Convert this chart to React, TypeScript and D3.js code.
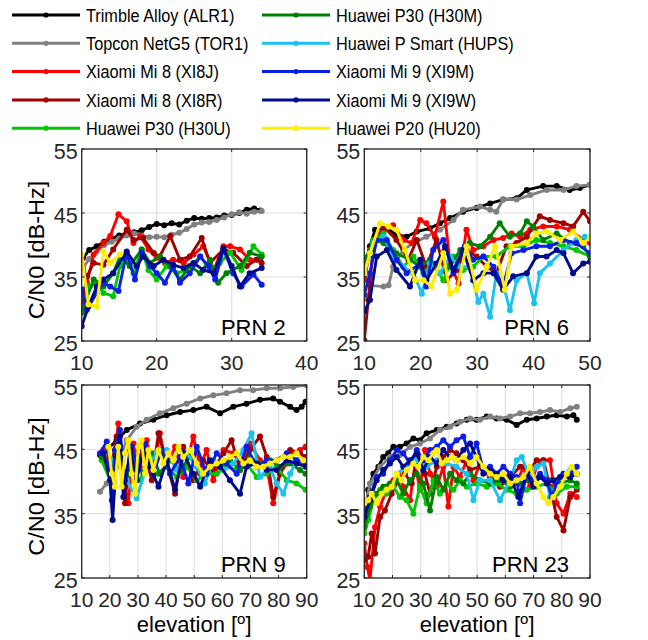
import React from 'react';
import * as d3 from 'd3';

type Pt = [number, number];

const SERIES_NAMES = [
  'Trimble Alloy (ALR1)', 'Topcon NetG5 (TOR1)', 'Xiaomi Mi 8 (XI8J)', 'Xiaomi Mi 8 (XI8R)', 'Huawei P30 (H30U)',
  'Huawei P30 (H30M)', 'Huawei P Smart (HUPS)', 'Xiaomi Mi 9 (XI9M)', 'Xiaomi Mi 9 (XI9W)', 'Huawei P20 (HU20)',
];
const SERIES_COLORS = ['#000000', '#808080', '#ff0000', '#a00000', '#00c800', '#008000', '#19c3ef', '#0a1ee6', '#000a8c', '#ffee00'];

const Y_TICKS = [25, 35, 45, 55];
const PRN_LABELS = ['PRN 2', 'PRN 6', 'PRN 9', 'PRN 23'];
const X_MAX = [40, 50, 90, 90];
const X_TICKS = [[10, 20, 30, 40], [10, 20, 30, 40, 50], [10, 20, 30, 40, 50, 60, 70, 80, 90], [10, 20, 30, 40, 50, 60, 70, 80, 90]];

// ---------- PRN 2 ----------
const PRN2_ALR1: Pt[] = [[10.2,38],[11,39.2],[12,39.8],[13,40.5],[14,41],[15,41.5],[16,41.8],[17,42],[18,42.3],[19,42.8],[20,43.3],[21,43.1],[22,43.4],[23,43.2],[24,43.8],[25,44.2],[26,44.1],[27,44.2],[28,44.3],[29,44.6],[30,44.7],[31,45],[32,45.5],[33,45.7],[33.8,45.4]];
const PRN2_TOR1: Pt[] = [[10.2,36.5],[11,37.8],[12,39],[13,40],[14,40.5],[15,41],[16,41.5],[17,41.8],[18,41.5],[19,41.2],[20,41.3],[21,41.2],[22,41.6],[23,41.9],[24,42.5],[25,43.2],[26,43.5],[27,43.6],[28,43.9],[29,44.3],[30,44.8],[31,45.1],[32,44.9],[33,45.2],[34,45.3]];
const PRN2_XI8J: Pt[] = [[10,37.9],[10.7,34.1],[11.6,38.5],[12.9,40.3],[13.8,41.4],[14.9,44.8],[16,43.7],[16.9,40.3],[17.8,41.4],[18.9,39.3],[20,38],[21.1,37.2],[22.2,37.7],[23.6,37.2],[24.9,38.5],[26.2,39.8],[27.6,36.1],[28.9,39.8],[29.8,39.8],[31.1,39.3],[32.4,37.7],[33.8,37.7]];
const PRN2_XI8R: Pt[] = [[10,29.4],[10.7,35.1],[11.6,37.2],[12.9,36.9],[14.2,39.3],[16,42.4],[16.9,40.8],[18.2,41.1],[19.6,38.75],[20.4,38.2],[21.8,41.4],[23.1,37.7],[24.4,38.2],[26,41.1],[27.1,37.2],[28.9,39.3],[30.2,38.8],[32,36.7],[33.3,37.7],[34,37.2]];
const PRN2_H30U: Pt[] = [[10,29.4],[11.1,33.5],[12,34.1],[12.9,32.5],[14.2,32],[15.1,36.7],[16,37.7],[16.9,35.6],[18,39.3],[18.9,36.1],[20,34.6],[21.3,36.7],[22.7,35.6],[24,36.1],[25.8,38.2],[27.1,36.1],[28.4,37.2],[29.8,38.8],[31.3,36.1],[32.9,39.8],[34,38.5]];
const PRN2_H30M: Pt[] = [[10,29.6],[11.6,34.6],[12.9,33.5],[14.2,35.6],[15.1,38.2],[16.4,36.7],[18,39.3],[19.1,37.2],[20.4,38.2],[21.8,36.7],[23.1,34.6],[24.4,36.7],[25.8,35.6],[27.1,37.7],[28.2,34.1],[29.3,35.6],[31.1,36.7],[32.4,38.8],[34,38.2]];
const PRN2_HUPS: Pt[] = [];
const PRN2_XI9M: Pt[] = [[10,33.1],[10.7,29.9],[12,32.5],[12.9,34.1],[13.8,33.5],[14.9,32.8],[16,38.8],[17.1,34.6],[18,38.8],[19.1,36.7],[20,35.6],[21.1,34.1],[22.2,36.7],[23.1,34.1],[24.4,35.6],[25.8,38.2],[26.9,36.7],[27.8,34.6],[28.9,39.3],[30.2,35.6],[31.3,33.5],[32.9,35.4],[34,33.8]];
const PRN2_XI9W: Pt[] = [[10,27.3],[10.9,30.4],[12,33.5],[12.9,34.6],[14.2,35.6],[16,39],[17.3,36.7],[18.2,38.2],[19.6,36.7],[20.9,37.7],[22.2,36.9],[23.6,36.4],[24.9,37.2],[26.2,36.1],[27.6,35.6],[28.9,39.5],[30,36.7],[31.1,33.5],[32.4,35.6],[34,36.4]];
const PRN2_HU20: Pt[] = [[10,38.5],[10.9,30.7],[12,30.4],[12.9,39],[13.8,37.2],[15.1,38.5]];

// ---------- PRN 6 ----------
const PRN6_ALR1: Pt[] = [[10,36.1],[11,39.8],[11.9,42.4],[14,42.6],[15.7,41.6],[17.5,41.3],[19.3,42.1],[21.6,42.6],[23.4,43.4],[25.2,44.2],[27.5,45.2],[29.9,45.8],[32.3,46.5],[34.6,47.1],[37,47.3],[38.8,48.6],[41.7,49.2],[44.1,49.2],[46.4,48.6],[48.2,48.9],[50,49.4]];
const PRN6_TOR1: Pt[] = [[10,35.1],[11,33.7],[13.4,33.5],[14.3,33.7],[15.1,36.6],[16.9,39.2],[18.7,40.3],[21,41.3],[23.4,42.4],[25.8,43.9],[27.5,45.5],[30.5,46],[32.3,45.5],[33.4,45.2],[34.6,47.1],[37,47.1],[39.4,47.8],[42.3,48.6],[45.3,48.6],[47.6,49.2],[50,49.4]];
const PRN6_XI8J: Pt[] = [[10,34.5],[11,39.2],[12.8,41.8],[15.1,43.1],[16.9,40.8],[18.4,40.3],[19.9,43.9],[21,43.4],[22.5,41.3],[24,46.8],[25.2,37.1],[26.7,34],[28.1,42.4],[29.3,39.2],[31.1,39.8],[32.9,40.8],[34.6,41.1],[36.1,41.8],[37.6,41.3],[39.4,42.4],[41.7,42.9],[44.1,42.9],[46.4,42.4],[48.8,40.8],[50,40.3]];
const PRN6_XI8R: Pt[] = [[10,25.1],[10.7,31.4],[11.6,39.8],[13.4,42.9],[15.7,40.8],[17.8,37.7],[19.3,40.8],[21,36.6],[22.8,40.8],[24.6,34.5],[26.4,36.1],[28.1,39.2],[29.9,38.2],[31.7,36.6],[33.4,35.6],[35.2,39.8],[37,40.3],[38.8,41.3],[41.1,44.5],[42.9,43.9],[45.3,43.4],[47,42.9],[48.8,45.2],[50,43.7]];
const PRN6_H30U: Pt[] = [[10,37.1],[11.6,40.8],[13.4,41.8],[15.1,39.2],[16.9,36.6],[18.7,38.2],[20.5,35.6],[22.2,37.1],[24,34.5],[25.8,38.2],[27.5,36.1],[29.3,36.6],[31.1,38.2],[33.4,38.2],[35.8,39.8],[38.2,39.8],[40.5,40.8],[42.9,40.3],[45.3,39.8],[47.6,39.2],[50,38.2]];
const PRN6_H30M: Pt[] = [[10,37.7],[11.9,40.8],[13.4,40.3],[15.7,38.7],[18.1,37.7],[19.9,36.6],[21.6,37.7],[23.4,35.6],[25.2,36.6],[27,39.2],[28.7,40.3],[30.5,39.8],[32.3,41.3],[34,43.4],[35.8,41.3],[37.6,41.8],[38.8,43.7],[39.9,42.9],[41.7,40.8],[44.1,41.8],[46.4,40.3],[48.8,39.8],[50,38.2]];
const PRN6_HUPS: Pt[] = [[10,35.6],[11.6,40.3],[13.4,41.3],[15.1,38.2],[16.9,36.6],[18.7,35.6],[20.2,32.4],[21.6,37.1],[23.4,35.6],[25.2,38.2],[27,36.6],[28.7,36.6],[30.2,31.1],[31.1,32.4],[32.3,28.8],[33.4,35.6],[34.6,34],[35.8,29.8],[37,34.5],[38.8,35.6],[40.1,30.9],[41.1,35.6],[42.9,37.1],[45.3,39.2],[47.6,40.8],[49.1,41.3]];
const PRN6_XI9M: Pt[] = [[10,32.2],[11,35.6],[12.2,40.8],[14,40.8],[15.7,37.7],[17.5,35.6],[19.9,37.1],[21,33.5],[22.2,39.2],[24,40.8],[25.8,35.6],[27.8,39.8],[29.3,37.7],[31.1,38.2],[32.9,36.6],[34.6,33.5],[36.1,38.7],[38.2,39.2],[40.5,39.8],[42.9,39.8],[45.3,40.8],[47.6,40.3],[50,38.7]];
const PRN6_XI9W: Pt[] = [[10,29.6],[11,31.4],[12.2,38.2],[14,39.2],[15.7,36.1],[18.1,33.5],[19.9,37.7],[21,34.5],[22.8,37.1],[24.3,39.8],[25.8,36.1],[27.5,39.2],[29.3,34.5],[31.1,35.6],[32.9,35.6],[34.6,33],[36.4,35.1],[38.8,35.6],[40.5,38.2],[42.3,38.2],[44.1,39.2],[45.3,38.7],[47,35.6],[48.8,37.1],[50,37.4]];
const PRN6_HU20: Pt[] = [[10,35.6],[11,38.7],[12.8,43.4],[14.3,42.9],[15.7,42.4],[17.2,39.2],[19,34.5],[20.5,34.5],[21.9,33.5],[24,38.7],[25.2,32.4],[26.4,33],[28.1,39.8],[29.9,33],[31.7,36.6],[33.2,39.8],[34.9,33],[36.1,39.8],[38.8,40.3],[40.5,41.8],[42.3,42.1],[44.7,40.8],[47,42.1],[48.8,40.3],[50,41.1]];

// ---------- PRN 9 ----------
const PRN9_ALR1: Pt[] = [[16.5,44.1],[18.9,44.9],[22.4,46.4],[26,48],[30.7,49],[35.5,49.6],[40.2,50.3],[45,50.8],[49.7,51.1],[54.4,51.6],[59.2,50.6],[63.9,51.6],[68.6,52.1],[73.4,52.7],[78.1,52.9],[80.5,52.4],[84.1,51.6],[86.4,51.1],[88.2,51.6],[89.6,52.4]];
const PRN9_TOR1: Pt[] = [[16.5,38.4],[18.9,39.7],[22.4,42.3],[26,46.4],[29.5,48.5],[33.1,49.6],[37.8,50.6],[42.6,51.4],[47.3,52.1],[52.1,52.9],[56.8,53.4],[61.5,53.7],[66.3,54.2],[71,54.2],[75.8,54.5],[80.5,54.5],[85.2,54.7],[89.6,55]];
const PRN9_XI8J: Pt[] = [[17.7,44.9],[20.7,40.2],[23,49],[24.8,40.2],[26.6,36.6],[28.4,45.9],[30.7,42.3],[33.1,46.4],[35.5,41.2],[37.8,47.5],[40.2,42.3],[43.2,45.4],[46.1,40.7],[49.7,47],[52.1,42.3],[54.4,44.9],[56.8,40.2],[60.4,44.9],[63.9,44.4],[66.9,42.3],[69.8,45.9],[73.4,43.3],[75.8,42.3],[78.1,36.6],[80.5,41.2],[82.9,42.8],[85.2,44.4],[87.6,44.9],[89.6,45.4]];
const PRN9_XI8R: Pt[] = [[17.1,44.4],[20.1,41.2],[22.4,47],[25.4,36.6],[27.2,44.9],[29.5,42.3],[31.9,45.4],[34.9,40.2],[37.3,47.5],[40.2,42.8],[43.2,38.1],[46.1,45.4],[49.7,40.2],[53.2,43.3],[56.8,41.8],[60.4,44.4],[63.3,46.4],[66.3,41.8],[69.8,44.9],[73.4,47],[75.8,43.8],[78.1,37.6],[80.5,41.2],[84.1,44.9],[87.6,44.4],[89.6,43.8]];
const PRN9_H30U: Pt[] = [[17.1,43.3],[20.1,40.2],[22.4,44.9],[25.4,41.2],[27.8,42.3],[30.7,40.2],[33.7,42.8],[36.7,41.2],[40.2,42.3],[43.8,40.7],[47.3,42.3],[50.9,40.2],[54.4,41.2],[58,41.2],[61.5,42.3],[65.1,41.8],[68.6,42.8],[72.2,40.7],[75.8,41.2],[79.3,42.3],[82.9,40.2],[86.4,39.7],[89.6,38.7]];
const PRN9_H30M: Pt[] = [[17.1,43.8],[20.1,42.3],[23,45.4],[26,40.2],[29,43.8],[31.9,41.2],[34.9,44.4],[37.8,41.2],[41.4,43.3],[45,41.8],[48.5,43.8],[52.1,41.2],[55.6,42.8],[59.2,42.3],[62.7,43.3],[66.3,41.8],[69.8,43.8],[73.4,42.8],[76.9,43.3],[80.5,42.3],[84.1,42.8],[87.6,41.8],[89.6,41.2]];
const PRN9_HUPS: Pt[] = [[20.1,42.8],[23,44.9],[26,40.2],[29.5,37.4],[33.1,42.3],[36.7,44.4],[40.2,44.9],[43.8,41.8],[47.3,44.4],[50.9,42.3],[53.8,39.7],[56.8,43.3],[60.4,41.8],[63.9,42.8],[67.5,44.9],[70.4,47.5],[73.4,40.7],[76.9,42.3],[79.3,39.7],[81.7,38.1],[84.1,41.2],[86.4,43.3],[89.6,42.8]];
const PRN9_XI9M: Pt[] = [[16.5,44.4],[18.9,46.2],[20.7,37.1],[21.8,44.9],[23.6,48],[25.4,40.2],[27.8,45.4],[30.1,41.8],[32.5,45.9],[35.5,41.2],[38.4,44.9],[41.4,41.2],[45,43.8],[47.9,39.7],[50.9,45.4],[54.4,41.2],[58,44.4],[61.5,42.8],[65.1,41.2],[68.6,45.4],[72.2,42.3],[75.8,43.3],[79.3,43.3],[82.9,44.4],[86.4,43.3],[89.6,42.8]];
const PRN9_XI9W: Pt[] = [[17.7,44.4],[20.1,40.2],[21,34],[22.4,43.8],[23.6,47],[24.8,37.6],[27.2,44.9],[29.5,40.2],[31.9,44.9],[34.3,42.3],[37.3,39.2],[40.2,43.3],[43.2,38.7],[46.1,44.4],[49.7,41.2],[52.1,39.2],[55.6,43.3],[59.2,42.3],[62.7,40.2],[66.3,38.1],[68.6,42.3],[72.2,42.8],[75.8,41.8],[79.3,41.8],[82.9,43.3],[86.4,42.8],[89.6,42.3]];
const PRN9_HU20: Pt[] = [[19.5,45.4],[20.7,41.2],[21.8,39.2],[23,45.4],[24.2,39.2],[25.4,44.4],[26.6,46.4],[27.8,41.2],[29,38.1],[30.1,45.4],[31.3,46.4],[32.5,41.2],[33.7,44.9],[35.5,41.8],[37.3,44.9],[39,42.8],[40.8,44.4],[42.6,43.3],[44.4,45.4],[46.1,43.8],[48.5,44.9],[50.9,42.8],[53.2,41.2],[55.6,42.3],[58,42.8],[60.4,43.3],[62.7,43.8],[65.1,44.4],[67.5,42.8],[69.8,43.3],[72.2,42.3],[74.6,42.3],[76.9,42.8],[79.3,43.3],[81.7,43.8],[84.1,43.8],[86.4,44.4],[88.8,43.3]];

// ---------- PRN 23 ----------
const PRN23_ALR1: Pt[] = [[10,33.5],[11.4,38.7],[13.2,41.2],[15,42.3],[16.7,43.8],[18.5,44.4],[20.3,45.4],[22.6,45.4],[25,45.9],[27.4,46.7],[29.7,46.4],[32.1,47.5],[35.7,48],[39.2,48.5],[42.7,49],[46.3,49.6],[49.8,49.6],[53.4,50.1],[56.9,49.8],[60.5,49.6],[64,48.8],[67.6,49.6],[71.1,49.8],[74.7,50.1],[78.2,50.3],[81.8,50.1],[84.1,50.3],[85.3,49.6]];
const PRN23_TOR1: Pt[] = [[10,35],[12,39.7],[15.6,42.3],[19.1,43.8],[22.6,44.1],[26.2,45.4],[29.7,45.9],[33.3,46.7],[36.8,48],[40.4,48.5],[43.9,49.3],[47.5,49.8],[51,49.6],[54.6,50.1],[58.1,49.8],[61.7,50.1],[65.2,50.6],[68.7,50.6],[72.3,50.8],[75.8,51.1],[79.4,50.8],[83,51.4],[85.3,51.6]];
const PRN23_XI8J: Pt[] = [[10,30.4],[11.1,26.7],[12,24.6],[13.8,32.9],[15.6,36.1],[17.9,38.7],[20.3,40.2],[22.1,41.2],[23.8,39.2],[26.2,37.1],[28,42.8],[29.7,38.7],[31.5,44.9],[33.3,41.2],[35.7,39.2],[38,42.3],[39.8,36.1],[41.6,42.3],[43.9,40.7],[46.3,43.3],[48.7,40.2],[51,42.8],[54.6,40.7],[58.1,40.2],[61.7,41.2],[64,39.7],[66.4,42.3],[68.7,39.2],[71.1,42.3],[73.5,43.3],[75.8,43.3],[78.2,36.6],[80.6,35],[83,38.1],[85.3,37.6]];
const PRN23_XI8R: Pt[] = [[10,27.8],[11.4,28.3],[12.6,31.9],[13.8,28.8],[15.6,34.5],[17.3,35.5],[19.7,38.1],[22.1,40.2],[24.4,41.2],[26.8,39.7],[29.1,43.8],[31.5,41.2],[33.3,38.1],[35.7,42.3],[38,43.8],[40.4,44.9],[42.7,44.4],[45.1,43.3],[47.5,41.8],[51,42.3],[54.6,40.7],[58.1,39.2],[61.7,40.7],[65.2,42.3],[68.7,41.8],[71.1,43.3],[73.5,43.3],[75.8,39.2],[78.2,34.5],[80.6,32.4],[83,37.6],[85.3,38.7]];
const PRN23_H30U: Pt[] = [[10,31.9],[11.4,34],[13.2,37.1],[15.6,38.7],[17.9,38.1],[20.3,39.2],[22.6,37.6],[25,37.1],[27.4,35],[29.7,39.2],[32.1,36.6],[34.5,40.2],[36.8,38.1],[39.2,39.7],[41.6,38.7],[43.9,40.2],[46.3,39.2],[49.8,39.7],[53.4,39.2],[56.9,39.7],[60.5,38.7],[64,38.1],[67.6,38.7],[71.1,39.2],[74.7,39.7],[78.2,38.1],[81.8,39.2],[85.3,39.2]];
const PRN23_H30M: Pt[] = [[10,32.9],[12,36.1],[14.4,38.1],[16.7,39.2],[19.1,39.7],[21.5,40.2],[23.8,38.1],[26.2,40.2],[28.6,41.2],[30.9,39.7],[33.3,35.5],[35.7,40.7],[38,38.7],[40.4,41.2],[42.7,40.2],[45.1,39.7],[47.5,41.2],[51,40.2],[54.6,39.7],[58.1,40.2],[61.7,39.2],[65.2,39.7],[68.7,40.2],[72.3,40.7],[75.8,40.2],[79.4,39.7],[83,40.2],[85.3,39.7]];
const PRN23_HUPS: Pt[] = [[21.5,41.2],[25,42.3],[28.6,43.3],[32.1,42.3],[35.7,43.3],[39.2,42.8],[42.7,42.3],[46.3,41.2],[48.7,37.1],[51,40.2],[54.6,40.2],[58.1,37.1],[61.7,40.2],[64,43.3],[65.8,43.8],[68.7,40.7],[71.1,42.3],[73.5,42.8],[75.8,37.6],[78.2,39.7],[80.6,41.2],[83,41.8],[85.3,41.2]];
const PRN23_XI9M: Pt[] = [[10,35],[12,37.6],[14.4,40.7],[16.7,41.2],[19.1,43.3],[21.5,44.9],[23.8,44.4],[26.2,42.8],[28.6,44.9],[30.9,43.3],[33.3,44.9],[35.7,45.4],[38,46.4],[40.4,45.4],[42.7,46.4],[45.1,47],[47.5,43.8],[49.8,45.9],[52.2,41.8],[54.6,42.3],[56.9,41.2],[59.3,42.3],[61.7,41.2],[64,40.7],[65.2,36.6],[67.6,41.2],[69.9,40.2],[72.3,41.2],[74.7,40.2],[76.4,37.6],[78.2,39.7],[80.6,41.2],[83,41.2],[85.3,42.3]];
const PRN23_XI9W: Pt[] = [[10,34.5],[12,37.1],[14.4,40.2],[16.7,41.8],[19.1,42.8],[21.5,43.8],[23.8,42.3],[26.2,43.3],[28.6,44.4],[30.9,41.8],[33.3,43.8],[35.7,42.8],[38,44.9],[40.4,43.8],[42.7,43.3],[45.1,44.9],[47.5,45.9],[49.8,43.8],[52.2,41.2],[54.6,41.8],[56.9,41.2],[59.3,40.2],[61.7,40.7],[64.6,37.6],[67.6,41.2],[69.9,39.2],[72.3,40.7],[74.7,39.7],[77,40.2],[79.4,40.7],[83,40.7],[85.3,41.2]];
const PRN23_HU20: Pt[] = [[10,36.6],[11.4,37.1],[12.6,38.1],[14.4,36.6],[16.1,38.1],[17.9,38.7],[19.7,39.2],[21.5,41.2],[23.2,40.2],[25,41.8],[27.4,42.8],[29.1,42.3],[30.9,43.8],[32.7,43.3],[34.5,44.4],[35.7,44.9],[37.4,42.8],[39.2,43.3],[41,43.8],[42.7,43.3],[45.1,43.8],[47.5,42.8],[49.8,43.8],[52.2,42.3],[54.6,41.2],[56.9,40.7],[59.3,41.2],[61.7,39.7],[64,40.2],[66.4,40.7],[68.7,42.3],[71.1,39.7],[73.5,37.6],[75.2,36.6],[77,37.6],[79.4,39.2],[81.8,41.2],[83.5,42.3],[85.3,41.2]];

const PANEL_DATA: Pt[][][] = [
  [PRN2_ALR1, PRN2_TOR1, PRN2_XI8J, PRN2_XI8R, PRN2_H30U, PRN2_H30M, PRN2_HUPS, PRN2_XI9M, PRN2_XI9W, PRN2_HU20],
  [PRN6_ALR1, PRN6_TOR1, PRN6_XI8J, PRN6_XI8R, PRN6_H30U, PRN6_H30M, PRN6_HUPS, PRN6_XI9M, PRN6_XI9W, PRN6_HU20],
  [PRN9_ALR1, PRN9_TOR1, PRN9_XI8J, PRN9_XI8R, PRN9_H30U, PRN9_H30M, PRN9_HUPS, PRN9_XI9M, PRN9_XI9W, PRN9_HU20],
  [PRN23_ALR1, PRN23_TOR1, PRN23_XI8J, PRN23_XI8R, PRN23_H30U, PRN23_H30M, PRN23_HUPS, PRN23_XI9M, PRN23_XI9W, PRN23_HU20],
];

const W = 648;
const H = 640;
const FONT = '"Liberation Sans", Arial, Helvetica, sans-serif';
const PANEL_BOXES = [
  { left: 81.7, right: 306.7, top: 149, bottom: 341 },
  { left: 364.3, right: 590, top: 149, bottom: 341 },
  { left: 81.7, right: 306.7, top: 385, bottom: 578 },
  { left: 364.3, right: 590, top: 385, bottom: 578 },
];

function Panel({ idx }: { idx: number }) {
  const b = PANEL_BOXES[idx];
  const x = d3.scaleLinear().domain([10, X_MAX[idx]]).range([b.left, b.right]);
  const y = d3.scaleLinear().domain([25, 55]).range([b.bottom, b.top]);
  const line = d3.line<Pt>().x((d) => x(d[0])).y((d) => y(d[1]));
  const clipId = `clip${idx}`;
  const tick = 3;
  return (
    <g>
      <defs>
        <clipPath id={clipId}>
          <rect x={b.left} y={b.top} width={b.right - b.left} height={b.bottom - b.top} />
        </clipPath>
      </defs>
      <rect x={b.left} y={b.top} width={b.right - b.left} height={b.bottom - b.top} fill="#fff" />
      {X_TICKS[idx].map((t) => (
        <line key={'gx' + t} x1={x(t)} x2={x(t)} y1={b.top} y2={b.bottom} stroke="#dcdcdc" strokeWidth={1} />
      ))}
      {Y_TICKS.map((t) => (
        <line key={'gy' + t} x1={b.left} x2={b.right} y1={y(t)} y2={y(t)} stroke="#dcdcdc" strokeWidth={1} />
      ))}
      <g clipPath={`url(#${clipId})`}>
        {PANEL_DATA[idx].map((s, si) =>
          s.length ? (
            <g key={si}>
              <path d={line(s) || ''} fill="none" stroke={SERIES_COLORS[si]} strokeWidth={2.9} strokeLinejoin="round" />
              {s.map((p, pi) => (
                <circle key={pi} cx={x(p[0])} cy={y(p[1])} r={3} fill={SERIES_COLORS[si]} />
              ))}
            </g>
          ) : null
        )}
      </g>
      {X_TICKS[idx].map((t) => (
        <g key={'tx' + t}>
          <line x1={x(t)} x2={x(t)} y1={b.bottom} y2={b.bottom - tick} stroke="#262626" />
          <line x1={x(t)} x2={x(t)} y1={b.top} y2={b.top + tick} stroke="#262626" />
          <text x={x(t)} y={b.bottom + 29} textAnchor="middle" fontSize={21} fontFamily={FONT} fill="#262626">
            {t}
          </text>
        </g>
      ))}
      {Y_TICKS.map((t) => (
        <g key={'ty' + t}>
          <line x1={b.left} x2={b.left + tick} y1={y(t)} y2={y(t)} stroke="#262626" />
          <line x1={b.right} x2={b.right - tick} y1={y(t)} y2={y(t)} stroke="#262626" />
          <text x={b.left - 4} y={y(t) + 10} textAnchor="end" fontSize={21.5} fontFamily={FONT} fill="#262626">
            {t}
          </text>
        </g>
      ))}
      <rect x={b.left} y={b.top} width={b.right - b.left} height={b.bottom - b.top} fill="none" stroke="#262626" strokeWidth={1.3} />
      <text x={b.right - 21} y={b.bottom - 6} textAnchor="end" fontSize={22} fontFamily={FONT} fill="#000">
        {PRN_LABELS[idx]}
      </text>
    </g>
  );
}

function Legend() {
  return (
    <g>
      {SERIES_NAMES.map((name, i) => {
        const col = Math.floor(i / 5);
        const row = i % 5;
        const x0 = col === 0 ? 12 : 262;
        const yy = 15 + row * 28.3;
        return (
          <g key={name}>
            <line x1={x0} x2={x0 + 68} y1={yy} y2={yy} stroke={SERIES_COLORS[i]} strokeWidth={3} />
            <circle cx={x0 + 34} cy={yy} r={2.6} fill={SERIES_COLORS[i]} />
            <text transform={`translate(${x0 + 74},${yy + 6.8}) scale(0.88,1)`} fontSize={18.5} fontFamily={FONT} fill="#000">
              {name}
            </text>
          </g>
        );
      })}
    </g>
  );
}

export default function App() {
  return (
    <svg width={W} height={H} style={{ position: 'absolute', left: 0, top: 0, background: '#fff' }}>
      <rect width={W} height={H} fill="#fff" />
      <Legend />
      {[0, 1, 2, 3].map((i) => (
        <Panel key={i} idx={i} />
      ))}
      {[0, 1].map((r) => {
        const b = PANEL_BOXES[r * 2];
        const cy = (b.top + b.bottom) / 2 + 5;
        return (
          <text key={'yl' + r} transform={`translate(44,${cy}) rotate(-90) scale(1.07,1)`} textAnchor="middle" fontSize={22} fontFamily={FONT} fill="#000">
            C/N0 [dB-Hz]
          </text>
        );
      })}
      {[2, 3].map((i) => {
        const b = PANEL_BOXES[i];
        const cx = (b.left + b.right) / 2;
        return (
          <text key={'xl' + i} x={cx} y={632} textAnchor="middle" fontSize={22} fontFamily={FONT} fill="#000">
            elevation [<tspan dy={-8} fontSize={15}>o</tspan>
            <tspan dy={8}>]</tspan>
          </text>
        );
      })}
    </svg>
  );
}
